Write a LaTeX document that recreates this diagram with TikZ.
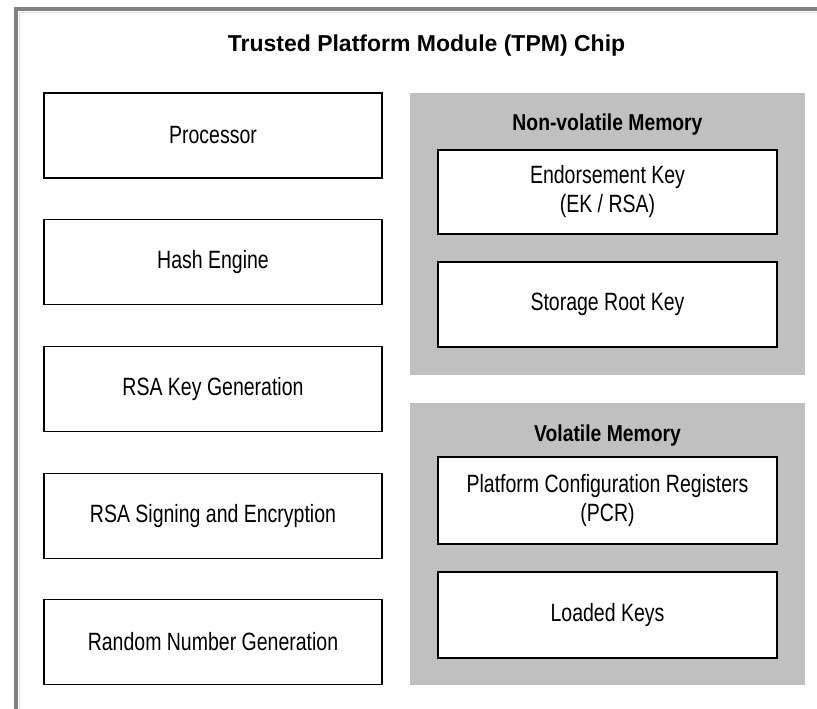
\documentclass[tikz,border=0pt]{standalone}
\usepackage{fontspec}
\setmainfont{Liberation Sans}[FakeStretch=0.78]
\newfontfamily\headfont{Liberation Sans}[FakeStretch=0.84]
\newfontfamily\titlefont{Liberation Sans}
\begin{document}
\begin{tikzpicture}[x=1pt,y=-1pt,
  unit/.style={draw=black,line width=1.5pt,fill=white,minimum width=338pt,
    inner sep=0pt,align=center,font=\fontsize{25}{29}\selectfont},
  memory/.style={fill=memgray,draw=none,inner sep=0pt},
  heading/.style={anchor=base,inner sep=0pt,font=\headfont\fontsize{23}{27}\selectfont\bfseries}]
\definecolor{memgray}{HTML}{C0C0C0}
\definecolor{framegray}{HTML}{808080}
\useasboundingbox (0,0) rectangle (817,709);
% chip outline (top and left edges)
\draw[framegray,line width=4pt] (16,709) -- (16,9) -- (817,9);
\draw[gray!25,line width=1pt] (19.5,709) -- (19.5,12.5) -- (817,12.5);
\node[anchor=base,inner sep=0pt,font=\titlefont\fontsize{23}{27}\selectfont\bfseries]
  (title) at (426.5,52) {Trusted Platform Module (TPM) Chip};
% functional units
\node[unit,minimum height=85pt] (proc)    at (213,135.5) {Processor};
\node[unit,minimum height=85pt] (hash)    at (213,262) {Hash Engine};
\node[unit,minimum height=85pt] (rsagen)  at (213,389) {RSA Key Generation};
\node[unit,minimum height=85pt] (rsasign) at (213,516) {RSA Signing and Encryption};
\node[unit,minimum height=85pt] (rng)     at (213,642) {Random Number Generation};
% memory areas
\node[memory,minimum width=395pt,minimum height=282pt] (nvm) at (607.5,234) {};
\node[memory,minimum width=395pt,minimum height=282pt] (vm)  at (607.5,544) {};
\node[heading] (nvmtitle) at (607.5,130) {Non-volatile Memory};
\node[heading] (vmtitle)  at (607.5,441) {Volatile Memory};
\node[unit,minimum width=339pt,minimum height=84pt] (ek)   at (607.5,192) {Endorsement Key\\(EK / RSA)};
\node[unit,minimum width=339pt,minimum height=85pt] (srk)  at (607.5,304.5) {Storage Root Key};
\node[unit,minimum width=339pt,minimum height=87pt] (pcr)  at (607.5,500.5) {Platform Configuration Registers\\(PCR)};
\node[unit,minimum width=339pt,minimum height=86pt] (keys) at (607.5,615) {Loaded Keys};
\end{tikzpicture}
\end{document}
